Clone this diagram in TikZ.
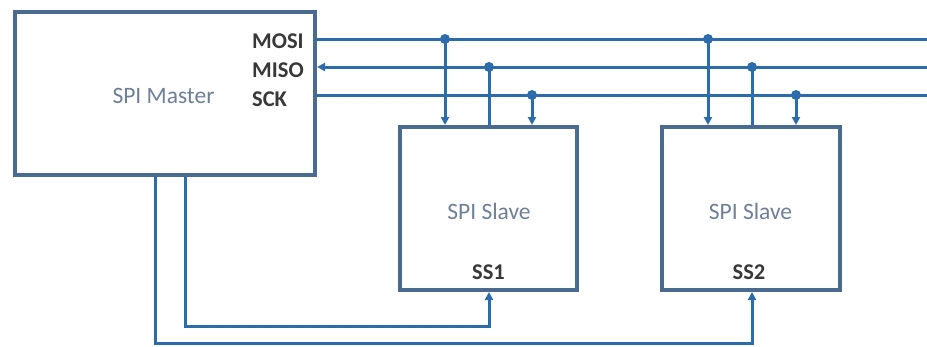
\documentclass[tikz,border=0pt]{standalone}
\usepackage{fontspec}
\setmainfont{Carlito}
\usetikzlibrary{arrows.meta}
\definecolor{boxc}{HTML}{4A6B8F}
\definecolor{wirec}{HTML}{2C6CAA}
\definecolor{lblc}{HTML}{6E7F96}
\definecolor{pinc}{HTML}{383838}
\begin{document}
\begin{tikzpicture}[x=1pt,y=-1pt,
  blk/.style={draw=boxc,line width=4pt,minimum width=#1,minimum height=163pt,inner sep=0pt},
  wire/.style={draw=wirec,line width=3pt},
  arr/.style={-{Triangle[length=8pt,width=8pt]}},
  tapdot/.style={circle,fill=wirec,inner sep=0pt,minimum size=10pt},
  pinlbl/.style={text=pinc,font=\fontsize{22.5}{26}\selectfont\bfseries,inner sep=0pt},
  blklbl/.style={text=lblc,font=\fontsize{23.5}{28}\selectfont,inner sep=0pt}]
\useasboundingbox (0,0) rectangle (927,346);
% blocks
\node[blk=300pt] (master) at (165,93.5) {};
\node[blk=177pt] (s1) at (488.5,208.5) {};
\node[blk=178pt] (s2) at (751,208.5) {};
% labels
\node[blklbl] (lm) at (163.5,95.5) {SPI Master};
\node[blklbl] (l1) at (489,211.5) {SPI Slave};
\node[blklbl] (l2) at (750.5,211.5) {SPI Slave};
\node[pinlbl] (ss1) at (488.5,272.5) {SS1};
\node[pinlbl] (ss2) at (749,272.5) {SS2};
\node[pinlbl,anchor=west] (pmosi) at (252,41.5) {MOSI};
\node[pinlbl,anchor=west] (pmiso) at (252,70) {MISO};
\node[pinlbl,anchor=west] (psck) at (252,99.5) {SCK};
% bus ends
\coordinate (mosiE) at (927,39);
\coordinate (misoE) at (927,67);
\coordinate (sckE) at (927,95);
\draw[wire] (master.east |- mosiE) -- (mosiE);
\draw[wire,arr] (misoE) -- (master.east |- misoE);
\draw[wire] (master.east |- sckE) -- (sckE);
% taps slave 1
\coordinate (t1a) at (445,39);
\coordinate (t1b) at (489,67);
\coordinate (t1c) at (532,95);
\draw[wire,arr] (t1a) -- (t1a |- s1.north);
\draw[wire] (t1b |- s1.north) -- (t1b);
\draw[wire,arr] (t1c) -- (t1c |- s1.north);
\node[tapdot] (d1a) at (t1a) {};
\node[tapdot] (d1b) at (t1b) {};
\node[tapdot] (d1c) at (t1c) {};
% taps slave 2
\coordinate (t2a) at (708,39);
\coordinate (t2b) at (752,67);
\coordinate (t2c) at (796,95);
\draw[wire,arr] (t2a) -- (t2a |- s2.north);
\draw[wire] (t2b |- s2.north) -- (t2b);
\draw[wire,arr] (t2c) -- (t2c |- s2.north);
\node[tapdot] (d2a) at (t2a) {};
\node[tapdot] (d2b) at (t2b) {};
\node[tapdot] (d2c) at (t2c) {};
% slave select lines
\coordinate (m1) at (185,175);
\coordinate (m2) at (155,175);
\draw[wire,arr] (m1 |- master.south) -- (185,326) -- (489,326) -- (489,326 |- s1.south);
\draw[wire,arr] (m2 |- master.south) -- (155,343) -- (752,343) -- (752,343 |- s2.south);
\end{tikzpicture}
\end{document}
